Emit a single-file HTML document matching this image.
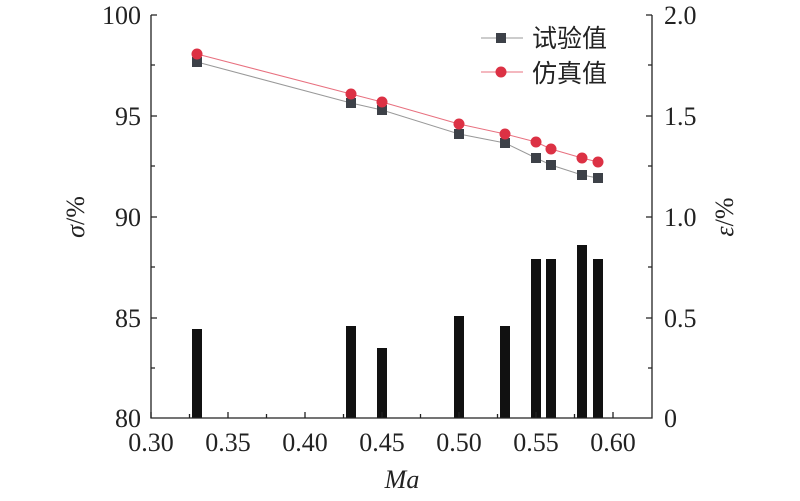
<!DOCTYPE html>
<html><head><meta charset="utf-8"><style>body{margin:0;background:#fff}</style></head><body>
<svg width="800" height="496" xmlns="http://www.w3.org/2000/svg" font-family="Liberation Serif, serif" font-size="26">
<g fill="#111">
<rect x="192" y="329" width="10" height="89"/>
<rect x="346" y="326" width="10" height="92"/>
<rect x="377" y="348" width="10" height="70"/>
<rect x="454" y="316" width="10" height="102"/>
<rect x="500" y="326" width="10" height="92"/>
<rect x="531" y="259" width="10" height="159"/>
<rect x="546" y="259" width="10" height="159"/>
<rect x="577" y="245" width="10" height="173"/>
<rect x="593" y="259" width="10" height="159"/>
</g>
<g stroke="#222" stroke-width="1.3" fill="none">
<polyline points="151,15 151,418 652,418 652,15"/>
<path d="M151,15h6M151,65h4M151,116h6M151,166h4M151,217h6M151,267h4M151,318h6M151,368h4
M652,15h-6M652,65h-4M652,116h-6M652,166h-4M652,217h-6M652,267h-4M652,318h-6M652,368h-4
M151,418v-6M189.5,418v-4M228,418v-6M266.5,418v-4M305,418v-6M343.5,418v-4M382,418v-6M420.5,418v-4M459,418v-6M497.5,418v-4M536,418v-6M574.5,418v-4M613,418v-6"/>
</g>
<polyline fill="none" stroke="#999" stroke-width="1" points="197,62 351,103 382,110 459,134 505,143 536,158 551,165 582,175 598,178"/>
<polyline fill="none" stroke="#e8707f" stroke-width="1" points="197,54 351,94 382,102 459,124 505,134 536,142 551,149 582,158 598,162"/>
<g fill="#3d4148">
<rect x="192" y="57" width="10" height="10"/><rect x="346" y="98" width="10" height="10"/><rect x="377" y="105" width="10" height="10"/><rect x="454" y="129" width="10" height="10"/><rect x="500" y="138" width="10" height="10"/><rect x="531" y="153" width="10" height="10"/><rect x="546" y="160" width="10" height="10"/><rect x="577" y="170" width="10" height="10"/><rect x="593" y="173" width="10" height="10"/>
</g>
<g fill="#dc3144">
<circle cx="197" cy="54" r="5.5"/><circle cx="351" cy="94" r="5.5"/><circle cx="382" cy="102" r="5.5"/><circle cx="459" cy="124" r="5.5"/><circle cx="505" cy="134" r="5.5"/><circle cx="536" cy="142" r="5.5"/><circle cx="551" cy="149" r="5.5"/><circle cx="582" cy="158" r="5.5"/><circle cx="598" cy="162" r="5.5"/>
</g>
<line x1="481" y1="38" x2="523" y2="38" stroke="#999"/><rect x="496" y="33" width="10" height="10" fill="#3d4148"/>
<line x1="481" y1="72" x2="523" y2="72" stroke="#e8707f"/><circle cx="501" cy="72" r="5.5" fill="#dc3144"/>
<g font-family="Liberation Sans, Noto Sans CJK SC, sans-serif" font-size="25" fill="#222">
<text x="532" y="47">试验值</text><text x="532" y="82">仿真值</text></g>
<g text-anchor="end" fill="#222"><text x="141" y="24">100</text><text x="141" y="125">95</text><text x="141" y="226">90</text><text x="141" y="327">85</text><text x="141" y="427">80</text></g>
<g fill="#222"><text x="664" y="24">2.0</text><text x="664" y="125">1.5</text><text x="664" y="226">1.0</text><text x="664" y="327">0.5</text><text x="664" y="427">0</text></g>
<g text-anchor="middle" fill="#222"><text x="151" y="451">0.30</text><text x="228" y="451">0.35</text><text x="305" y="451">0.40</text><text x="382" y="451">0.45</text><text x="459" y="451">0.50</text><text x="536" y="451">0.55</text><text x="613" y="451">0.60</text>
<text x="402" y="488" font-style="italic">Ma</text></g>
<text transform="translate(84,217) rotate(-90)" text-anchor="middle" fill="#222"><tspan font-style="italic">σ</tspan>/%</text>
<text transform="translate(733,217) rotate(-90)" text-anchor="middle" fill="#222"><tspan font-style="italic">ε</tspan>/%</text>
</svg>
</body></html>
